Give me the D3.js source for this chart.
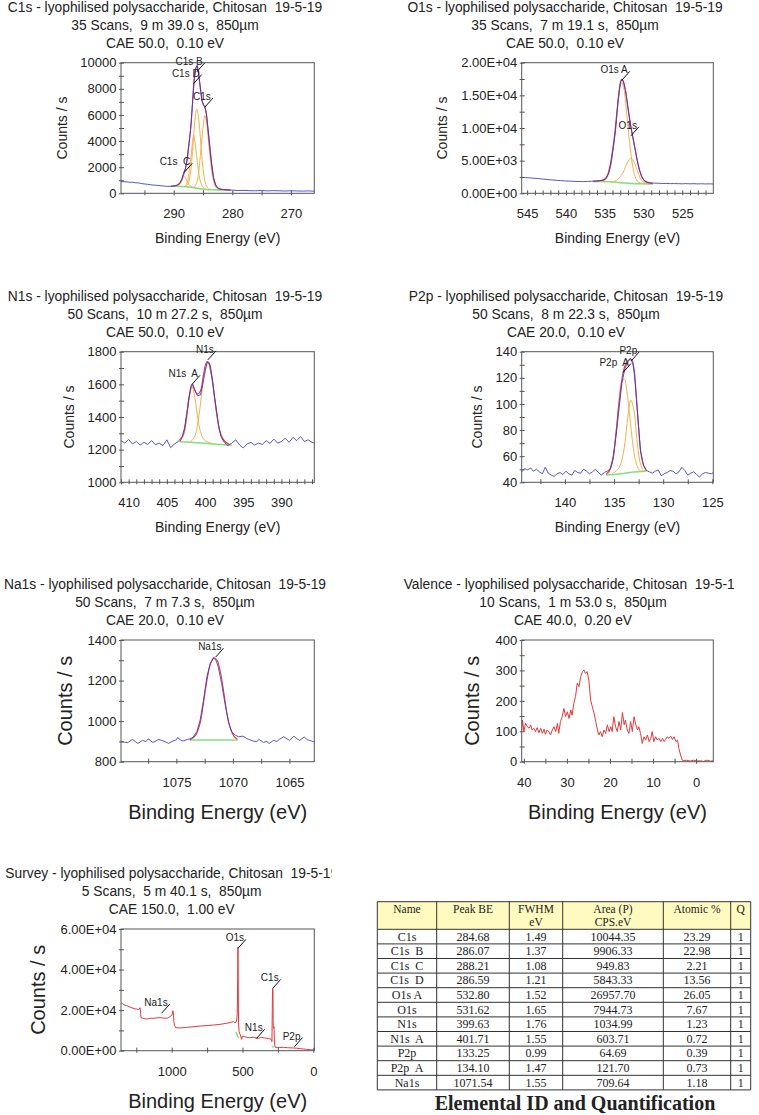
<!DOCTYPE html>
<html><head><meta charset="utf-8">
<script src="https://cdn.jsdelivr.net/npm/d3@7"></script>
<style>
body{margin:0;background:#fff;}
svg{display:block;}
text{font-family:"Liberation Sans",Arial,sans-serif;fill:#222;white-space:pre;}
.tbl text{font-family:"Liberation Serif","Times New Roman",serif;}
</style></head><body>
<svg id="chart" width="759" height="1115"></svg>
<script>
// ---------------- C1s ----------------
const c1sTitle = ["C1s - lyophilised polysaccharide, Chitosan  19-5-19", "35 Scans,  9 m 39.0 s,  850µm", "CAE 50.0,  0.10 eV"];
const c1sXDomain = [299, 266];
const c1sYDomain = [0, 10000];
const c1sXTicks = [295, 290, 285, 280, 275, 270];
const c1sXLabels = [290, 280, 270];
const c1sYTicks = [0, 1000, 2000, 3000, 4000, 5000, 6000, 7000, 8000, 9000, 10000];
const c1sYLabels = [0, 2000, 4000, 6000, 8000, 10000];
const c1sRaw = [[299,900],[298.5,885],[298,870],[297.5,850],[297,845],[296.5,810],[296,795],[295.5,745],[295,715],[294.5,690],[294,660],[293.5,630],[293,615],[292.5,590],[292,570],[291.5,545],[291,525],[290.5,535],[290,545],[289.5,600],[289,750],[288.6,1100],[288.3,1600],[288,1900],[287.7,2700],[287.4,3800],[287.1,5000],[286.8,6800],[286.5,8600],[286.2,9600],[286,9800],[285.8,9300],[285.5,8200],[285.2,7100],[284.9,6700],[284.7,6650],[284.4,6000],[284.1,4800],[283.8,3500],[283.5,2200],[283.2,1200],[282.9,700],[282.6,480],[282.3,380],[282,320],[281.5,290],[281,265],[280.5,250],[280,235],[279,215],[278,225],[277,200],[276,195],[275,215],[274,185],[273,205],[272,190],[271,175],[270,195],[269,180],[268,170],[267,185],[266,160]];
const c1sEnv = [[290.5,540],[289.5,610],[289,760],[288.6,1100],[288.2,1550],[287.8,2300],[287.4,3700],[287,5500],[286.6,8300],[286.3,9500],[286,9750],[285.7,9000],[285.4,7900],[285.1,7000],[284.8,6700],[284.5,6300],[284.2,5100],[283.9,3700],[283.5,2100],[283.1,1000],[282.7,500],[282.3,340],[281.5,285],[280.3,255]];
const c1sBg = [[290.5,540],[289.5,535],[288.5,520],[287.5,490],[286.5,430],[285.5,350],[284.5,300],[283.5,275],[282.5,262],[281.5,258],[280.3,255]];
const c1sCompC = [[289.6,530],[289.2,590],[288.9,740],[288.6,1000],[288.4,1200],[288.21,1290],[288,1210],[287.8,1010],[287.5,740],[287.2,580],[286.9,500],[286.5,440]];
const c1sCompD = [[288.2,500],[287.9,620],[287.6,1000],[287.3,1900],[287,3000],[286.8,3900],[286.59,4450],[286.4,4000],[286.1,2900],[285.8,1800],[285.5,1000],[285.2,600],[284.8,380],[284.4,300]];
const c1sCompB = [[287.9,490],[287.5,780],[287.1,1700],[286.8,3200],[286.5,5000],[286.25,6100],[286.07,6450],[285.85,6100],[285.55,4800],[285.25,3100],[284.95,1700],[284.6,800],[284.2,400],[283.8,290]];
const c1sCompA = [[286.6,430],[286.2,650],[285.8,1400],[285.45,2900],[285.1,4600],[284.85,5600],[284.68,5950],[284.45,5600],[284.15,4400],[283.8,2800],[283.4,1400],[283,650],[282.6,360],[282.2,270]];
const c1sNotes = [{name:"C1s  C", be:288.21, v:1600},{name:"C1s D", be:286.59, v:8400},{name:"C1s B", be:286.07, v:9300},{name:"C1s", be:284.68, v:6600}];

// ---------------- O1s ----------------
const o1sTitle = ["O1s - lyophilised polysaccharide, Chitosan  19-5-19", "35 Scans,  7 m 19.1 s,  850µm", "CAE 50.0,  0.10 eV"];
const o1sXDomain = [545.7, 521];
const o1sYDomain = [0, 20000];
const o1sXTicks = [545,544,543,542,541,540,539,538,537,536,535,534,533,532,531,530,529,528,527,526,525,524,523,522];
const o1sXLabels = [545, 540, 535, 530, 525];
const o1sYTicks = [0, 2500, 5000, 7500, 10000, 12500, 15000, 17500, 20000];
const o1sYLabels = [0, 5000, 10000, 15000, 20000];
const o1sRaw = [[545.7,2450],[545.2,2400],[544.7,2380],[544.2,2300],[543.7,2280],[543.2,2200],[542.7,2150],[542.2,2080],[541.7,2050],[541.2,1980],[540.7,1950],[540.2,1900],[539.7,1880],[539.2,1850],[538.7,1820],[538.2,1800],[537.7,1790],[537.2,1810],[536.7,1850],[536.2,1880],[535.7,1920],[535.2,2000],[534.8,2300],[534.5,3100],[534.2,4500],[533.9,6900],[533.6,9600],[533.3,13800],[533,16800],[532.8,17500],[532.6,17200],[532.3,15600],[532,13000],[531.7,10600],[531.4,8700],[531.1,6900],[530.8,5000],[530.5,3500],[530.2,2500],[529.9,1950],[529.5,1700],[529,1600],[528.5,1550],[528,1540],[527.5,1500],[527,1510],[526.5,1480],[526,1490],[525.5,1470],[525,1460],[524.5,1480],[524,1450],[523.5,1470],[523,1440],[522.5,1460],[522,1430],[521.5,1450],[521,1420]];
const o1sEnv = [[536.5,1820],[535.5,1950],[535,2150],[534.6,2900],[534.3,4300],[534,6500],[533.7,9200],[533.4,12800],[533.1,16000],[532.85,17400],[532.6,17100],[532.3,15600],[532,13200],[531.7,10800],[531.4,8800],[531.1,6900],[530.8,5000],[530.5,3500],[530.2,2500],[529.8,1850],[529.3,1580],[528.8,1480]];
const o1sBg = [[536.5,1820],[535.5,1800],[534.5,1750],[533.5,1680],[532.5,1580],[531.5,1500],[530.5,1460],[529.5,1440],[528.8,1430]];
const o1sCompA = [[535.6,1810],[535,1950],[534.6,2600],[534.2,4300],[533.9,6800],[533.6,10000],[533.3,13600],[533.05,16200],[532.8,17000],[532.55,16200],[532.3,13800],[532,10200],[531.7,6800],[531.4,4200],[531.1,2600],[530.8,1900],[530.4,1560],[530,1460]];
const o1sCompB = [[534.2,1700],[533.7,1850],[533.3,2150],[532.9,2700],[532.5,3500],[532.2,4400],[531.9,5100],[531.62,5400],[531.35,5100],[531.05,4300],[530.75,3300],[530.45,2400],[530.1,1800],[529.7,1550],[529.2,1450]];
const o1sNotes = [{name:"O1s A", be:532.8, v:17300},{name:"O1s", be:531.62, v:8800}];

// ---------------- N1s ----------------
const n1sTitle = ["N1s - lyophilised polysaccharide, Chitosan  19-5-19", "50 Scans,  10 m 27.2 s,  850µm", "CAE 50.0,  0.10 eV"];
const n1sXDomain = [411, 385.7];
const n1sYDomain = [1000, 1800];
const n1sXTicks = [411,410,409,408,407,406,405,404,403,402,401,400,399,398,397,396,395,394,393,392,391,390,389,388,387,386];
const n1sXLabels = [410, 405, 400, 395, 390];
const n1sYTicks = [1000, 1100, 1200, 1300, 1400, 1500, 1600, 1700, 1800];
const n1sYLabels = [1000, 1200, 1400, 1600, 1800];
const n1sRaw = [[411,1255],[410.5,1240],[410,1262],[409.5,1235],[409,1250],[408.5,1228],[408,1245],[407.5,1232],[407,1255],[406.5,1230],[406,1240],[405.5,1225],[405,1260],[404.5,1212],[404,1235],[403.5,1250],[403.2,1270],[403,1280],[402.7,1330],[402.4,1420],[402.1,1520],[401.8,1590],[401.6,1600],[401.3,1560],[401,1530],[400.6,1535],[400.3,1600],[400,1680],[399.7,1740],[399.4,1720],[399.1,1640],[398.8,1540],[398.5,1440],[398.2,1340],[397.9,1280],[397.5,1245],[397,1225],[396.5,1240],[396,1260],[395.5,1230],[395,1210],[394.5,1235],[394,1245],[393.5,1228],[393,1240],[392.5,1232],[392,1255],[391.5,1238],[391,1265],[390.5,1240],[390,1250],[389.5,1270],[389,1245],[388.5,1275],[388,1255],[387.5,1280],[387,1250],[386.5,1260],[386,1245],[385.7,1240]];
const n1sEnv = [[403.3,1250],[402.8,1300],[402.4,1410],[402.1,1520],[401.71,1600],[401.3,1560],[401,1540],[400.6,1560],[400.2,1660],[399.8,1735],[399.5,1735],[399.1,1650],[398.7,1500],[398.3,1370],[397.9,1290],[397.4,1250],[396.8,1232]];
const n1sBg = [[403.3,1248],[401,1242],[399,1235],[397.5,1230],[396.5,1228]];
const n1sCompA = [[403.3,1250],[402.8,1290],[402.4,1390],[402.1,1500],[401.71,1585],[401.3,1510],[401,1410],[400.6,1310],[400.2,1265],[399.6,1245],[399,1238]];
const n1sCompB = [[402,1245],[401.4,1275],[401,1350],[400.6,1480],[400.2,1630],[399.63,1730],[399.1,1640],[398.7,1490],[398.3,1360],[397.9,1280],[397.4,1245],[396.8,1232]];
const n1sNotes = [{name:"N1s  A", be:401.71, v:1600},{name:"N1s", be:399.63, v:1750}];

// ---------------- P2p ----------------
const p2pTitle = ["P2p - lyophilised polysaccharide, Chitosan  19-5-19", "50 Scans,  8 m 22.3 s,  850µm", "CAE 20.0,  0.10 eV"];
const p2pXDomain = [144.4, 124.9];
const p2pYDomain = [40, 140];
const p2pXTicks = [142.5, 140, 137.5, 135, 132.5, 130, 127.5, 125];
const p2pXLabels = [140, 135, 130, 125];
const p2pYTicks = [40, 50, 60, 70, 80, 90, 100, 110, 120, 130, 140];
const p2pYLabels = [40, 60, 80, 100, 120, 140];
const p2pRaw = [[144.4,48],[144.1,50.5],[143.8,49.5],[143.5,51],[143.2,48.5],[142.9,50],[142.6,48],[142.3,46.5],[142,51.5],[141.7,47],[141.4,45.5],[141.1,44.5],[140.8,46.5],[140.5,47.5],[140.2,46],[139.9,48.5],[139.6,46.5],[139.3,45.5],[139,49],[138.7,47.5],[138.4,47],[138.1,50],[137.8,48.5],[137.5,46.5],[137.2,48],[136.9,50],[136.6,47.5],[136.3,45.5],[136,47.5],[135.7,48.5],[135.4,50],[135.1,59],[134.8,75],[134.5,96],[134.2,116],[133.9,127],[133.6,132],[133.35,135],[133.1,133],[132.9,123],[132.7,102],[132.5,82],[132.3,64],[132,53],[131.7,49],[131.4,48],[131.1,47],[130.8,48.5],[130.5,49.5],[130.2,45],[129.9,46.5],[129.6,47.5],[129.3,49],[129,48.5],[128.7,46.5],[128.4,48],[128.1,51.5],[127.8,49],[127.5,45.5],[127.2,47],[126.9,48],[126.6,46],[126.3,44],[126,46.5],[125.7,47.5],[125.4,47],[125.1,46.5],[124.9,47.5]];
const p2pEnv = [[135.8,46],[135.4,50],[135.1,58],[134.8,78],[134.5,100],[134.2,119],[133.9,129],[133.6,133],[133.35,134],[133.1,131],[132.9,120],[132.7,102],[132.5,82],[132.3,64],[132,53],[131.7,49]];
const p2pBg = [[135.8,45.5],[135,46],[134,46.8],[133,47.8],[132,48.5],[131.7,48.6]];
const p2pCompA = [[135.6,46],[135.2,55],[134.8,78],[134.5,103],[134.2,117],[133.95,119],[133.7,110],[133.4,90],[133.1,70],[132.8,56],[132.4,49],[132,48.5]];
const p2pCompB = [[135.2,46.5],[134.6,50],[134.2,57],[133.9,70],[133.6,90],[133.3,103],[133,96],[132.7,75],[132.4,57],[132.1,50],[131.8,48.5]];
const p2pNotes = [{name:"P2p  A", be:134.10, v:124},{name:"P2p", be:133.25, v:133}];

// ---------------- Na1s ----------------
const na1sTitle = ["Na1s - lyophilised polysaccharide, Chitosan  19-5-19", "50 Scans,  7 m 7.3 s,  850µm", "CAE 20.0,  0.10 eV"];
const na1sXDomain = [1079.9, 1062.8];
const na1sYDomain = [800, 1400];
const na1sXTicks = [1077.5, 1075, 1072.5, 1070, 1067.5, 1065];
const na1sXLabels = [1075, 1070, 1065];
const na1sYTicks = [800, 900, 1000, 1100, 1200, 1300, 1400];
const na1sYLabels = [800, 1000, 1200, 1400];
const na1sRaw = [[1080,902],[1079.6,896],[1079.3,894],[1078.9,910],[1078.6,898],[1078.4,890],[1078,905],[1077.7,899],[1077.5,913],[1077.1,895],[1076.8,902],[1076.6,910],[1076.2,903],[1075.9,896],[1075.7,890],[1075.3,902],[1075,908],[1074.9,919],[1074.6,906],[1074.4,902],[1074,910],[1073.7,914],[1073.5,923],[1073.2,947],[1072.9,1005],[1072.6,1104],[1072.3,1219],[1072,1285],[1071.7,1310],[1071.5,1301],[1071.3,1268],[1071,1186],[1070.7,1087],[1070.4,997],[1070.1,947],[1069.8,931],[1069.5,923],[1069.1,926],[1068.8,915],[1068.6,910],[1068.2,902],[1067.9,898],[1067.7,910],[1067.3,895],[1067,900],[1066.8,890],[1066.4,905],[1066.1,900],[1065.9,910],[1065.5,923],[1065.2,912],[1065,905],[1064.6,926],[1064.3,912],[1064.1,905],[1063.7,922],[1063.4,908],[1063.2,905],[1062.8,897]];
const na1sEnv = [[1073.8,908],[1073.3,930],[1072.9,990],[1072.6,1090],[1072.3,1200],[1072,1280],[1071.7,1312],[1071.4,1300],[1071.1,1240],[1070.8,1140],[1070.5,1030],[1070.2,960],[1069.9,925],[1069.6,910]];
const na1sBg = [[1073.8,907],[1069.6,907]];
const na1sNotes = [{name:"Na1s", be:1071.54, v:1315}];

// ---------------- Valence ----------------
const valTitle = ["Valence - lyophilised polysaccharide, Chitosan  19-5-19", "10 Scans,  1 m 53.0 s,  850µm", "CAE 40.0,  0.20 eV"];
const valXDomain = [40.5, -4];
const valYDomain = [0, 400];
const valXTicks = [40, 35, 30, 25, 20, 15, 10, 5, 0];
const valXLabels = [40, 30, 20, 10, 0];
const valYTicks = [0, 50, 100, 150, 200, 250, 300, 350, 400];
const valYLabels = [0, 100, 200, 300, 400];
const valRaw = [[40.5,104],[40.3,137],[40,99],[39.6,126],[39.2,115],[38.8,110],[38.4,121],[38.1,104],[37.7,110],[37.3,99],[36.9,112],[36.5,95],[36.1,110],[35.7,93],[35.3,107],[35,90],[34.6,104],[34.2,99],[33.8,88],[33.4,104],[33,115],[32.6,99],[32.2,126],[31.9,93],[31.5,132],[31.1,148],[30.7,175],[30.3,148],[29.9,164],[29.5,142],[29.1,170],[28.8,153],[28.4,192],[28,214],[27.6,258],[27.2,247],[26.8,279],[26.4,296],[26,301],[25.7,290],[25.3,296],[24.9,268],[24.5,203],[24.1,181],[23.7,159],[23.3,132],[22.9,104],[22.6,88],[22.2,99],[21.8,82],[21.4,104],[21,93],[20.6,121],[20.2,99],[19.8,115],[19.5,99],[19.1,148],[18.7,115],[18.3,99],[17.9,132],[17.5,104],[17.1,162],[16.7,121],[16.4,137],[16,104],[15.6,93],[15.2,132],[14.8,99],[14.4,148],[14,121],[13.6,104],[13.3,115],[12.9,93],[12.5,60],[12.1,82],[11.7,71],[11.3,88],[10.9,66],[10.5,77],[10.2,99],[9.8,66],[9.4,82],[9,71],[8.6,77],[8.2,66],[7.8,77],[7.4,66],[7.1,73],[6.7,82],[6.3,77],[5.9,84],[5.5,73],[5.1,82],[4.7,66],[4.3,71],[4,44],[3.6,22],[3.2,5],[2.8,3],[2.2,5],[1.4,2],[0.6,5],[-0.2,2],[-0.9,3],[-1.7,1],[-2.5,5],[-3.3,2],[-4,3]];

// ---------------- Survey ----------------
const survTitle = ["Survey - lyophilised polysaccharide, Chitosan  19-5-19", "5 Scans,  5 m 40.1 s,  850µm", "CAE 150.0,  1.00 eV"];
const survXDomain = [1358, -7];
const survYDomain = [0, 60000];
const survXTicks = [1250, 1000, 750, 500, 250, 0];
const survXLabels = [1000, 500, 0];
const survYTicks = [0, 10000, 20000, 30000, 40000, 50000, 60000];
const survYLabels = [0, 20000, 40000, 60000];
const survRaw = [[1358,23700],[1345,23100],[1330,22400],[1317,22200],[1300,21600],[1282,21200],[1265,20700],[1247,20550],[1235,20300],[1228,20550],[1223,21200],[1220,18500],[1216,16300],[1200,15900],[1176,15600],[1150,16000],[1129,15950],[1105,16200],[1082,16300],[1060,16100],[1035,15950],[1020,16400],[1012,16800],[998,17600],[992,19700],[988,18700],[984,14000],[981,12700],[972,11350],[940,11200],[894,11500],[850,11800],[800,12150],[750,12400],[706,12650],[660,13000],[612,13500],[580,14000],[565,14300],[553,13800],[545,14200],[541,15100],[537,18400],[534,36000],[532,51000],[530,30000],[528,14000],[524,9500],[518,8200],[506,5600],[501,7200],[485,6900],[470,6600],[450,6400],[423,6600],[400,6200],[388,6100],[365,6600],[345,6300],[329,6100],[310,5900],[299,5750],[292,4450],[289,25000],[287,30700],[285,29900],[283.5,15000],[282.4,11000],[277.6,11800],[275,6000],[273,2800],[268,1650],[240,1600],[212,1650],[180,1450],[141,1350],[120,1250],[94,1000],[70,850],[47,650],[20,500],[0,330],[-7,300]];
const survBgO = [[546,9300],[537,7500],[527,6300]];
const survBgC = [[293,2300],[286,1900],[280,1700]];
const survBgN = [[407,6300],[393,6100]];
const survNotes = [{name:"Na1s", be:1071, v:18500},{name:"O1s", be:531.8, v:50500},{name:"N1s", be:400, v:6100},{name:"C1s", be:287, v:30700},{name:"P2p", be:133, v:2000}];

// ---------------- Table ----------------
const tblHeader = [["Name"],["Peak BE"],["FWHM","eV"],["Area (P)","CPS.eV"],["Atomic %"],["Q"]];
const tblNames = ["C1s","C1s  B","C1s  C","C1s  D","O1s A","O1s","N1s","N1s  A","P2p","P2p  A","Na1s"];
const tblPeakBE = [284.68, 286.07, 288.21, 286.59, 532.80, 531.62, 399.63, 401.71, 133.25, 134.10, 1071.54];
const tblFWHM = [1.49, 1.37, 1.08, 1.21, 1.52, 1.65, 1.76, 1.55, 0.99, 1.47, 1.55];
const tblArea = [10044.35, 9906.33, 949.83, 5843.33, 26957.70, 7944.73, 1034.99, 603.71, 64.69, 121.70, 709.64];
const tblAtomic = [23.29, 22.98, 2.21, 13.56, 26.05, 7.67, 1.23, 0.72, 0.39, 0.73, 1.18];
const tblQ = [1,1,1,1,1,1,1,1,1,1,1];
const tblCaption = "Elemental ID and Quantification";

// =============== drawing ===============
const svg = d3.select("#chart");
const fmtInt = d => String(d);
const fmtExp = d => {
  if (d === 0) return "0.00E+00";
  const e = Math.floor(Math.log10(d));
  const m = d / Math.pow(10, e);
  return m.toFixed(2) + "E+" + String(e).padStart(2, "0");
};

function drawPanel(p) {
  const g = svg.append("g");
  const x = d3.scaleLinear().domain(p.xDom).range([p.l, p.r]);
  const y = d3.scaleLinear().domain(p.yDom).range([p.b, p.t]);
  const cid = "clip-" + p.id;
  const defs = svg.append("defs");
  defs.append("clipPath").attr("id", cid).append("rect")
    .attr("x", p.l).attr("y", p.t).attr("width", p.r - p.l).attr("height", p.b - p.t);
  const plot = g.append("g").attr("clip-path", `url(#${cid})`);
  const line = d3.line().x(d => x(d[0])).y(d => y(d[1]));
  const smooth = d3.line().x(d => x(d[0])).y(d => y(d[1])).curve(d3.curveCatmullRom);

  (p.bgs || []).forEach(bg => plot.append("path").datum(bg).attr("d", smooth)
    .attr("fill", "none").attr("stroke", "#7fe07f").attr("stroke-width", 1.5));
  (p.comps || []).forEach(c => plot.append("path").datum(c).attr("d", smooth)
    .attr("fill", "none").attr("stroke", "#f2b24e").attr("stroke-width", 1));
  if (p.env) plot.append("path").datum(p.env).attr("d", smooth)
    .attr("fill", "none").attr("stroke", "#e23a3a").attr("stroke-width", 1.1);
  plot.append("path").datum(p.raw).attr("d", line)
    .attr("fill", "none").attr("stroke", p.rawColor).attr("stroke-width", 1)
    .attr("stroke-opacity", p.rawOpacity || 1);

  g.append("rect").attr("x", p.l).attr("y", p.t).attr("width", p.r - p.l).attr("height", p.b - p.t)
    .attr("fill", "none").attr("stroke", "#555").attr("stroke-width", 1);

  const ay = g.append("g").attr("transform", `translate(${p.l},0)`)
    .call(d3.axisLeft(y).tickValues(p.yTicks).tickSize(2).tickPadding(2.5)
      .tickFormat(d => p.yLabels.includes(d) ? p.yFmt(d) : ""));
  const ax = g.append("g").attr("transform", `translate(0,${p.b})`)
    .call(d3.axisBottom(x).tickValues(p.xTicks).tickSize(2).tickPadding(13.8)
      .tickFormat(d => p.xLabels.includes(d) ? String(d) : ""));
  [ay, ax].forEach(a => {
    a.attr("font-family", null).attr("font-size", null);
    a.select(".domain").remove();
    a.selectAll("line").attr("stroke", "#555");
    a.selectAll("text").attr("font-size", 13).attr("fill", "#222");
  });
  ay.selectAll("line").attr("x1", 3);
  ax.selectAll("line").attr("y1", -3);

  // axis titles
  const fs = p.axisFont;
  g.append("text").attr("transform", `translate(${p.ylabX},${(p.t + p.b) / 2}) rotate(-90)`)
    .attr("text-anchor", "middle").attr("font-size", fs).text("Counts / s");
  g.append("text").attr("x", (p.l + p.r) / 2).attr("y", p.b + (fs > 16 ? 57 : 50))
    .attr("text-anchor", "middle").attr("font-size", fs).text("Binding Energy (eV)");

  // titles
  const tg = g.append("g");
  if (p.titleClip) {
    defs.append("clipPath").attr("id", cid + "-t").append("rect")
      .attr("x", p.titleClip[0]).attr("y", p.t - 70).attr("width", p.titleClip[1] - p.titleClip[0]).attr("height", 70);
    tg.attr("clip-path", `url(#${cid}-t)`);
  }
  const offs = [-51, -33, -15];
  p.title.forEach((s, i) => tg.append("text").attr("x", p.titleX).attr("y", p.t + offs[i])
    .attr("text-anchor", "middle").attr("font-size", 13.8).text(s));

  // peak annotations
  (p.notes || []).forEach(n => {
    const px = x(n.be), py = y(n.v);
    g.append("line").attr("x1", px).attr("y1", py).attr("x2", px + 8).attr("y2", py - 9)
      .attr("stroke", "#111").attr("stroke-width", 1);
    g.append("text").attr("x", px + 6).attr("y", py - 7).attr("text-anchor", "end")
      .attr("font-size", 10).attr("fill", "#444").text(n.name);
  });
}

const BLUE = "#3b36c9";
const panels = [
  {id:"c1s", l:121, t:62.7, r:314.3, b:193.3, xDom:c1sXDomain, yDom:c1sYDomain, xTicks:c1sXTicks, xLabels:c1sXLabels,
   yTicks:c1sYTicks, yLabels:c1sYLabels, yFmt:fmtInt, title:c1sTitle, titleX:165, ylabX:66.5, axisFont:14,
   raw:c1sRaw, rawColor:BLUE, rawOpacity:0.85, env:c1sEnv, bgs:[c1sBg], comps:[c1sCompC, c1sCompD, c1sCompB, c1sCompA], notes:c1sNotes},
  {id:"o1s", l:521.7, t:62.7, r:713.3, b:193.3, xDom:o1sXDomain, yDom:o1sYDomain, xTicks:o1sXTicks, xLabels:o1sXLabels,
   yTicks:o1sYTicks, yLabels:o1sYLabels, yFmt:fmtExp, title:o1sTitle, titleX:565, ylabX:446.7, axisFont:14,
   raw:o1sRaw, rawColor:BLUE, rawOpacity:0.85, env:o1sEnv, bgs:[o1sBg], comps:[o1sCompA, o1sCompB], notes:o1sNotes},
  {id:"n1s", l:121, t:351.7, r:314.3, b:482.3, xDom:n1sXDomain, yDom:n1sYDomain, xTicks:n1sXTicks, xLabels:n1sXLabels,
   yTicks:n1sYTicks, yLabels:n1sYLabels, yFmt:fmtInt, title:n1sTitle, titleX:165, ylabX:74, axisFont:14,
   raw:n1sRaw, rawColor:BLUE, rawOpacity:0.85, env:n1sEnv, bgs:[n1sBg], comps:[n1sCompA, n1sCompB], notes:n1sNotes},
  {id:"p2p", l:521.7, t:351.7, r:713.3, b:482.3, xDom:p2pXDomain, yDom:p2pYDomain, xTicks:p2pXTicks, xLabels:p2pXLabels,
   yTicks:p2pYTicks, yLabels:p2pYLabels, yFmt:fmtInt, title:p2pTitle, titleX:566, ylabX:481.7, axisFont:14,
   raw:p2pRaw, rawColor:BLUE, rawOpacity:0.85, env:p2pEnv, bgs:[p2pBg], comps:[p2pCompA, p2pCompB], notes:p2pNotes},
  {id:"na1s", l:121, t:640, r:314.3, b:761.7, xDom:na1sXDomain, yDom:na1sYDomain, xTicks:na1sXTicks, xLabels:na1sXLabels,
   yTicks:na1sYTicks, yLabels:na1sYLabels, yFmt:fmtInt, title:na1sTitle, titleX:165, ylabX:71.7, axisFont:20,
   raw:na1sRaw, rawColor:BLUE, rawOpacity:0.85, env:na1sEnv, bgs:[na1sBg], comps:[], notes:na1sNotes},
  {id:"val", l:521.7, t:640, r:713.3, b:761.7, xDom:valXDomain, yDom:valYDomain, xTicks:valXTicks, xLabels:valXLabels,
   yTicks:valYTicks, yLabels:valYLabels, yFmt:fmtInt, title:valTitle, titleX:573, titleClip:[380, 734.3], ylabX:479.3, axisFont:20,
   raw:valRaw, rawColor:"#e03a3a", notes:[]},
  {id:"surv", l:121, t:929, r:314.3, b:1050.7, xDom:survXDomain, yDom:survYDomain, xTicks:survXTicks, xLabels:survXLabels,
   yTicks:survYTicks, yLabels:survYLabels, yFmt:fmtExp, title:survTitle, titleX:171.7, titleClip:[0, 331.7], ylabX:45, axisFont:20,
   raw:survRaw, rawColor:"#e03a3a", bgs:[survBgO, survBgC, survBgN], notes:survNotes}
];
panels.forEach(drawPanel);

// ---------------- table ----------------
(function drawTable() {
  const g = svg.append("g").attr("class", "tbl");
  const colEdges = [377.3, 436.7, 509.3, 562.7, 663.3, 730.7, 750.7];
  const top = 901.7, headH = 27.6, rowH = 14.6;
  const nRows = tblNames.length;
  const bottom = top + headH + nRows * rowH;
  const rowY = d3.scaleLinear().domain([0, nRows]).range([top + headH, bottom]);
  g.append("rect").attr("x", colEdges[0]).attr("y", top).attr("width", colEdges[6] - colEdges[0]).attr("height", headH)
    .attr("fill", "#fffbc0");
  const hy = [top].concat(d3.range(0, nRows + 1).map(i => rowY(i)));
  hy.forEach(yv => g.append("line").attr("x1", colEdges[0]).attr("x2", colEdges[6]).attr("y1", yv).attr("y2", yv)
    .attr("stroke", "#333").attr("stroke-width", 1));
  colEdges.forEach(xv => g.append("line").attr("x1", xv).attr("x2", xv).attr("y1", top).attr("y2", bottom)
    .attr("stroke", "#333").attr("stroke-width", 1));
  const cx = i => (colEdges[i] + colEdges[i + 1]) / 2;
  tblHeader.forEach((lines, i) => lines.forEach((s, j) => g.append("text")
    .attr("x", cx(i)).attr("y", top + 10.8 + j * 13).attr("text-anchor", "middle").attr("font-size", 11.5).text(s)));
  const cols = [tblNames, tblPeakBE.map(v => v.toFixed(2)), tblFWHM.map(v => v.toFixed(2)),
    tblArea.map(v => v.toFixed(2)), tblAtomic.map(v => v.toFixed(2)), tblQ.map(String)];
  cols.forEach((col, i) => col.forEach((s, r) => g.append("text")
    .attr("x", cx(i)).attr("y", rowY(r) + 11.3).attr("text-anchor", "middle")
    .attr("font-size", 12).text(s)));
  g.append("text").attr("x", 575).attr("y", 1109.5).attr("text-anchor", "middle")
    .attr("font-size", 20).attr("font-weight", "bold").attr("fill", "#111").text(tblCaption);
})();
</script>
</body></html>
